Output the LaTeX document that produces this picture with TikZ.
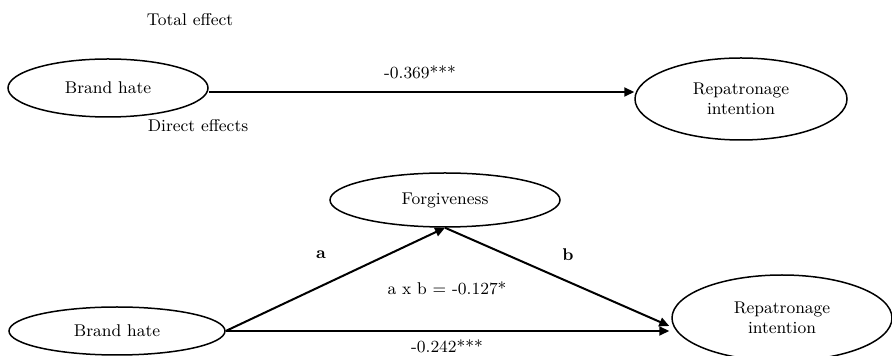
\documentclass[tikz,border=0pt]{standalone}
\usepackage{tikz}
\usetikzlibrary{positioning,arrows.meta,shapes.geometric}
\tikzset{
  var/.style={ellipse, draw, line width=0.75pt, align=center, inner sep=0pt,
              font=\fontsize{8.5}{10}\selectfont},
  ar/.style={-{Triangle[length=5pt, width=4.5pt]}, line width=1pt},
  lbl/.style={font=\fontsize{8.5}{10}\selectfont, inner sep=1pt},
  hdr/.style={font=\fontsize{8.5}{10}\selectfont, inner sep=0pt}
}
\begin{document}
\begin{tikzpicture}[x=0.5pt, y=-0.5pt]
\useasboundingbox (0,0) rectangle (892,356);
% total effect
\node[hdr] (ttl) at (190,20) {Total effect};
\node[var, minimum width=100pt, minimum height=29pt] (bhA) at (108,88) {Brand hate};
\node[var, minimum width=106pt, minimum height=41pt] (rpA) at (741,99) {Repatronage\\intention};
\draw[ar] ([yshift=-2pt]bhA.east) -- ([yshift=-2pt]bhA.east -| rpA.west);
\node[lbl] (cTot) at (420,72) {-0.369***};
% direct effects
\node[hdr] (dir) at (198,126) {Direct effects};
\node[var, minimum width=115pt, minimum height=27pt] (fg) at (445,200) {Forgiveness};
\node[var, minimum width=108pt, minimum height=24pt] (bhB) at (117,331) {Brand hate};
\node[var, minimum width=110pt, minimum height=43pt] (rpB) at (782,318) {Repatronage\\intention};
\coordinate (hit) at ([xshift=-1pt,yshift=-4pt]rpB.west);
\draw[ar] (bhB.east) -- (fg.south);
\draw[ar] (fg.south) -- (hit);
\draw[ar] (bhB.east) -- (bhB.east -| hit);
\node[lbl, font=\fontsize{8.5}{10}\selectfont\bfseries] (pa) at (321,255) {a};
\node[lbl, font=\fontsize{8.5}{10}\selectfont\bfseries] (pb) at (568,255) {b};
\node[lbl] (ind) at (447,288) {a x b = -0.127*};
\node[lbl, inner sep=0pt] (cDir) at (447,346) {-0.242***};
\end{tikzpicture}
\end{document}
